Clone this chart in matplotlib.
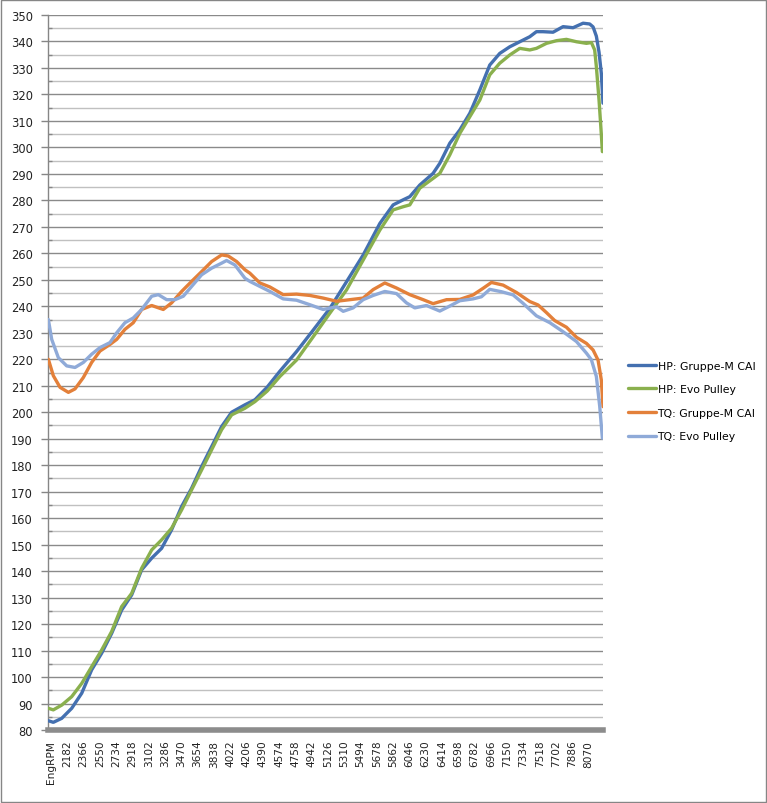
import matplotlib
matplotlib.use("Agg")
import matplotlib.pyplot as plt
from matplotlib.patches import Rectangle
import numpy as np

# ---------------- data ----------------
hp_gm_rpm = [1968, 2024, 2119, 2232, 2345, 2457, 2570, 2683, 2796, 2909, 3022, 3135, 3247,
             3360, 3473, 3586, 3699, 3812, 3925, 4038, 4188, 4301, 4440, 4583, 4771, 4959,
             5147, 5336, 5524, 5712, 5862, 5975, 6050, 6163, 6313, 6389, 6502, 6615, 6728,
             6841, 6953, 7066, 7179, 7292, 7405, 7480, 7555, 7668, 7781, 7894, 8007, 8082,
             8120, 8157, 8187, 8213, 8232]
hp_gm = [83.5, 82.9, 84.4, 88.2, 93.9, 102.7, 109.0, 116.5, 125.3, 131.0, 140.5, 144.9, 148.6,
         155.6, 164.4, 171.3, 179.5, 187.0, 194.6, 200.0, 202.8, 204.7, 209.5, 215.5, 222.9, 231.0,
         239.2, 249.3, 259.4, 271.3, 278.3, 280.2, 281.4, 285.8, 290.2, 294.0, 301.6, 306.6, 312.9,
         321.7, 331.1, 335.5, 338.0, 339.9, 341.8, 343.7, 343.7, 343.5, 345.6, 345.2, 346.9, 346.6,
         345.5, 342.0, 336.0, 328.0, 316.7]

hp_evo_rpm = [1968, 2024, 2119, 2232, 2345, 2457, 2570, 2683, 2796, 2909, 3022, 3135, 3247,
              3360, 3473, 3586, 3699, 3812, 3925, 4038, 4188, 4301, 4440, 4583, 4771, 4959,
              5147, 5336, 5524, 5712, 5862, 5975, 6050, 6163, 6313, 6389, 6502, 6615, 6728,
              6841, 6953, 7066, 7179, 7292, 7405, 7480, 7594, 7706, 7819, 7932, 8045, 8101,
              8138, 8157, 8187, 8213, 8225]
hp_evo = [88.2, 87.6, 89.4, 92.6, 97.6, 103.9, 110.2, 117.2, 126.6, 131.6, 141.1, 148.0, 151.8,
          156.2, 163.1, 170.7, 178.2, 185.8, 193.4, 199.0, 201.5, 204.0, 208.0, 213.5, 219.7, 228.5,
          237.4, 246.2, 257.5, 268.8, 276.4, 277.6, 278.3, 284.6, 288.3, 290.2, 297.2, 305.3, 311.6,
          317.9, 327.4, 331.8, 334.9, 337.4, 336.8, 337.4, 339.3, 340.3, 340.8, 339.9, 339.3, 339.6,
          336.8, 330.5, 318.0, 305.0, 298.4]

tq_gm_rpm = [1968, 2024, 2100, 2194, 2269, 2363, 2457, 2551, 2664, 2740, 2833, 2927, 3022,
             3135, 3266, 3360, 3473, 3586, 3699, 3812, 3925, 3999, 4094, 4188, 4244, 4357,
             4470, 4620, 4771, 4921, 5072, 5223, 5373, 5523, 5636, 5768, 5900, 6050, 6201,
             6313, 6465, 6615, 6765, 6878, 6972, 7104, 7255, 7405, 7499, 7594, 7687, 7819,
             7932, 8045, 8120, 8176, 8213, 8232]
tq_gm = [220.0, 213.8, 209.4, 207.5, 208.8, 213.1, 218.8, 223.1, 225.6, 227.5, 231.3, 233.8, 238.8,
         240.3, 238.8, 241.3, 245.6, 249.4, 253.1, 256.9, 259.4, 259.0, 256.9, 253.8, 252.5, 248.8,
         247.3, 244.4, 244.6, 244.1, 243.1, 241.9, 242.5, 243.1, 246.3, 248.8, 246.9, 244.4, 242.5,
         241.0, 242.5, 242.6, 244.3, 246.8, 249.0, 248.0, 245.2, 241.8, 240.5, 237.6, 234.6, 232.1,
         228.3, 226.0, 223.5, 219.7, 212.2, 202.1]

tq_evo_rpm = [1968, 2006, 2081, 2175, 2269, 2363, 2457, 2551, 2664, 2740, 2833, 2927, 3022,
              3135, 3210, 3304, 3398, 3492, 3586, 3699, 3812, 3925, 3981, 4075, 4188, 4244,
              4357, 4470, 4620, 4771, 4921, 5072, 5223, 5298, 5410, 5523, 5636, 5768, 5900,
              6012, 6106, 6238, 6389, 6502, 6615, 6765, 6859, 6953, 7085, 7217, 7330, 7480,
              7632, 7781, 7932, 8045, 8101, 8157, 8195, 8225]
tq_evo = [235.0, 227.5, 220.6, 217.5, 216.9, 218.8, 221.9, 224.4, 226.3, 230.0, 233.8, 235.6, 238.8,
          243.8, 244.4, 242.5, 242.5, 243.8, 247.5, 251.9, 254.4, 256.3, 257.3, 255.6, 250.6, 249.4,
          247.5, 245.6, 242.8, 242.3, 240.6, 238.8, 239.8, 238.1, 239.4, 242.5, 244.1, 245.6, 244.8,
          241.3, 239.4, 240.3, 238.2, 240.1, 242.1, 242.8, 243.6, 246.4, 245.5, 244.3, 241.1, 236.4,
          233.8, 230.4, 226.7, 222.3, 219.8, 213.5, 202.2, 190.2]

series_names = ["HP: Gruppe-M CAI", "HP: Evo Pulley", "TQ: Gruppe-M CAI", "TQ: Evo Pulley"]
series_colors = ["#4470B0", "#8AB04E", "#E3803A", "#8FAAD8"]

x_tick_values = [1998 + 184 * i for i in range(34)]
x_tick_labels = ["EngRPM"] + [str(v) for v in x_tick_values[1:]]
y_ticks = list(range(80, 351, 10))

# ---------------- figure ----------------
W, H = 767, 804
fig = plt.figure(figsize=(W / 100, H / 100), dpi=100)
ax = fig.add_axes([48 / W, 1 - 731 / H, (603 - 48) / W, (731 - 16) / H])

data = [(hp_gm_rpm, hp_gm), (hp_evo_rpm, hp_evo), (tq_gm_rpm, tq_gm), (tq_evo_rpm, tq_evo)]
for (xs, ys), name, c in zip(data, series_names, series_colors):
    ax.plot(xs, ys, color=c, lw=2.4, label=name, solid_joinstyle="round",
            solid_capstyle="round", zorder=3)

ax.set_xlim(1964, 8232)
ax.set_ylim(80, 350)
ax.set_yticks(y_ticks)
ax.set_yticks(list(range(85, 350, 10)), minor=True)
ax.set_xticks(x_tick_values)
ax.set_xticklabels(x_tick_labels, rotation=90, fontsize=7.6, family="DejaVu Sans",
                   color="#222222")
ax.tick_params(axis="x", length=0, pad=7)
ax.tick_params(axis="y", which="major", length=5, width=1, color="#868686", pad=6,
               labelsize=8.3, labelcolor="#222222")
ax.tick_params(axis="y", which="minor", length=3, width=1, color="#868686", direction="in")
for lab in ax.get_yticklabels():
    lab.set_family("DejaVu Sans")

ax.grid(True, which="major", axis="y", color="#8a8a8a", lw=1.0, zorder=0)
ax.grid(True, which="minor", axis="y", color="#c0c0c0", lw=1.0, zorder=0)
ax.grid(False, axis="x")

for s in ["top", "right"]:
    ax.spines[s].set_visible(False)
ax.spines["left"].set_color("#868686")
ax.spines["left"].set_linewidth(1.0)
ax.spines["bottom"].set_color("#8c8c8c")
ax.spines["bottom"].set_linewidth(4.0)
ax.spines["bottom"].set_zorder(4)

fig.legend(loc="center left", bbox_to_anchor=(618 / W, 1 - 402 / H), frameon=False,
           prop={"family": "DejaVu Sans", "size": 7.8}, handlelength=2.6,
           handletextpad=0.15, labelspacing=1.25, borderpad=0.4)

fig.patches.append(Rectangle((0.6 / W, 0.6 / H), 1 - 1.2 / W, 1 - 1.2 / H,
                             transform=fig.transFigure, fill=False,
                             edgecolor="#868686", lw=1.0))

fig.savefig("out.png", dpi=100, facecolor="white")
